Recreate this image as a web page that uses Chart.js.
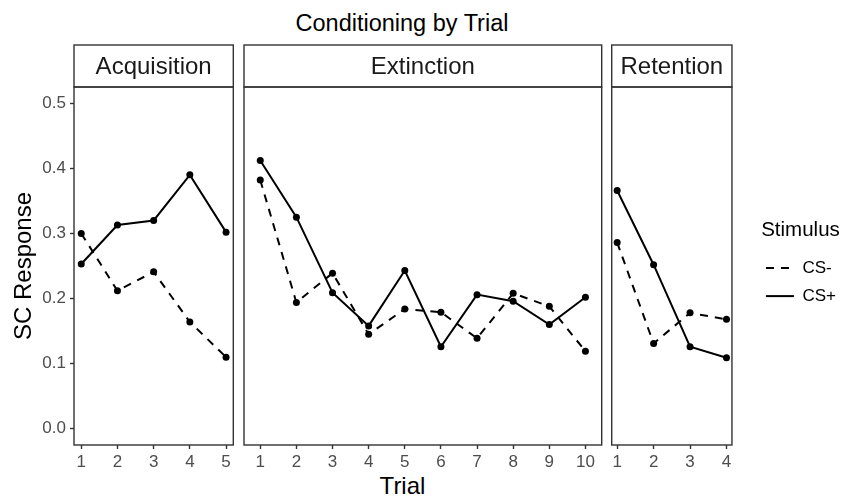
<!DOCTYPE html>
<html>
<head>
<meta charset="utf-8">
<script src="https://cdn.jsdelivr.net/npm/chart.js@4.4.0/dist/chart.umd.min.js"></script>
<style>
  body { margin: 0; background: #fff; }
  #wrap { position: relative; width: 851px; height: 497px; font-family: "Liberation Sans", Arial, sans-serif; }
  #wrap canvas { position: absolute; top: 0; }
  .txt { position: absolute; color: #000; white-space: nowrap; }
</style>
</head>
<body>
<div id="wrap">
  <div class="txt" id="title" style="left:0;width:804px;top:10px;text-align:center;font-size:23.5px;">Conditioning by Trial</div>
  <div class="txt" id="xlab" style="left:74px;width:657px;top:472px;text-align:center;font-size:24px;">Trial</div>
  <canvas id="acq" style="left:0px;" width="240" height="497"></canvas>
  <canvas id="ext" style="left:240px;" width="370" height="497"></canvas>
  <canvas id="ret" style="left:607px;" width="244" height="497"></canvas>
</div>
<script>
// values
var yTicks = [0, 0.1, 0.2, 0.3, 0.4, 0.5]

var acqTrials = [1, 2, 3, 4, 5]
var acqMinus = [0.300, 0.212, 0.241, 0.164, 0.110]
var acqPlus = [0.253, 0.313, 0.320, 0.390, 0.302]

var extTrials = [1, 2, 3, 4, 5, 6, 7, 8, 9, 10]
var extMinus = [0.382, 0.194, 0.239, 0.145, 0.184, 0.179, 0.139, 0.208, 0.188, 0.119]
var extPlus = [0.412, 0.325, 0.209, 0.158, 0.243, 0.126, 0.206, 0.196, 0.160, 0.202]

var retTrials = [1, 2, 3, 4]
var retMinus = [0.286, 0.131, 0.178, 0.168]
var retPlus = [0.366, 0.252, 0.126, 0.109]

Chart.defaults.font.family = '"Liberation Sans", Arial, sans-serif'
Chart.defaults.animation = false

var ink = '#333333'

// panel border + facet strip on top of the plot area
var facetPlugin = {
  id: 'facet',
  afterDraw(chart, args, opts) {
    var a = chart.chartArea
    var ctx = chart.ctx
    ctx.save()
    ctx.strokeStyle = ink
    ctx.lineWidth = 1.4
    ctx.strokeRect(a.left, a.top, a.right - a.left, a.bottom - a.top)
    ctx.strokeRect(a.left, 45, a.right - a.left, a.top - 45)
    ctx.fillStyle = '#1a1a1a'
    ctx.font = '24px "Liberation Sans", Arial, sans-serif'
    ctx.textAlign = 'center'
    ctx.textBaseline = 'middle'
    ctx.fillText(opts.text, (a.left + a.right) / 2, 67)
    ctx.restore()
  }
}

// push the legend a little away from the last panel
var legendGap = {
  id: 'legendGap',
  afterLayout(chart, args, opts) {
    var lg = chart.legend
    if (lg && lg.options.display && opts.gap) {
      lg.left += opts.gap
      lg.right += opts.gap
    }
  }
}

function pts(xs, ys) {
  return xs.map(function (x, i) { return { x: x, y: ys[i] } })
}

// legend keys: use the line's own width and dash, not the point's
function legendLabels(chart) {
  var items = Chart.defaults.plugins.legend.labels.generateLabels(chart)
  items.forEach(function (it) {
    var ds = chart.data.datasets[it.datasetIndex]
    it.lineWidth = ds.borderWidth
    it.lineDash = ds.borderDash || []
    it.strokeStyle = ds.borderColor
  })
  return items
}

function makePanel(id, name, trials, minus, plus, xmin, xmax, pad, showY, showLegend) {
  var ctx = document.getElementById(id).getContext('2d')
  return new Chart(ctx, {
    type: 'line',
    data: {
      datasets: [
        {
          label: 'CS-',
          data: pts(trials, minus),
          borderColor: '#000',
          backgroundColor: '#000',
          borderWidth: 2,
          borderDash: [8, 7],
          pointRadius: 3.5,
          pointBorderWidth: 0,
          tension: 0
        },
        {
          label: 'CS+',
          data: pts(trials, plus),
          borderColor: '#000',
          backgroundColor: '#000',
          borderWidth: 2,
          pointRadius: 3.5,
          pointBorderWidth: 0,
          tension: 0
        }
      ]
    },
    options: {
      responsive: false,
      layout: { padding: pad },
      plugins: {
        facet: { text: name },
        legendGap: { gap: showLegend ? 23 : 0 },
        tooltip: { enabled: false },
        legend: {
          display: showLegend,
          position: 'right',
          align: 'start',
          title: { display: true, text: 'Stimulus', position: 'center', color: '#000',
                   font: { size: 20.5 }, padding: { top: 133, bottom: 4 } },
          labels: {
            color: '#000',
            font: { size: 17 },
            usePointStyle: true,
            pointStyle: 'line',
            pointStyleWidth: 28,
            padding: 11,
            generateLabels: legendLabels
          }
        }
      },
      scales: {
        x: {
          type: 'linear',
          min: xmin,
          max: xmax,
          afterBuildTicks: function (s) { s.ticks = trials.map(function (v) { return { value: v } }) },
          afterFit: function (s) { s.height = 52 },
          grid: { drawOnChartArea: false, tickLength: 4, tickColor: ink, tickWidth: 1.4 },
          border: { display: false },
          ticks: { color: '#4d4d4d', font: { size: 17 }, padding: 3, maxRotation: 0,
                   callback: function (v) { return String(v) } }
        },
        y: {
          display: showY,
          min: -0.025,
          max: 0.525,
          afterBuildTicks: function (s) { s.ticks = yTicks.map(function (v) { return { value: v } }) },
          afterFit: function (s) { s.width = showY ? 74 : 0 },
          grid: { drawOnChartArea: false, tickLength: 4, tickColor: ink, tickWidth: 1.4 },
          border: { display: false },
          title: { display: true, text: 'SC Response', color: '#000', font: { size: 24 },
                   padding: { top: 10, bottom: 0 } },
          ticks: { color: '#4d4d4d', font: { size: 17 }, padding: 4,
                   callback: function (v) { return Number(v).toFixed(1) } }
        }
      }
    },
    plugins: [facetPlugin, legendGap]
  })
}

makePanel('acq', 'Acquisition', acqTrials, acqMinus, acqPlus, 0.8, 5.2,
  { top: 87, left: 0, right: 6.7, bottom: 0 }, true, false)
makePanel('ext', 'Extinction', extTrials, extMinus, extPlus, 0.55, 10.45,
  { top: 87, left: 4, right: 8.3, bottom: 0 }, false, false)
makePanel('ret', 'Retention', retTrials, retMinus, retPlus, 0.85, 4.15,
  { top: 87, left: 4.7, right: 28, bottom: 0 }, false, true)
</script>
</body>
</html>
